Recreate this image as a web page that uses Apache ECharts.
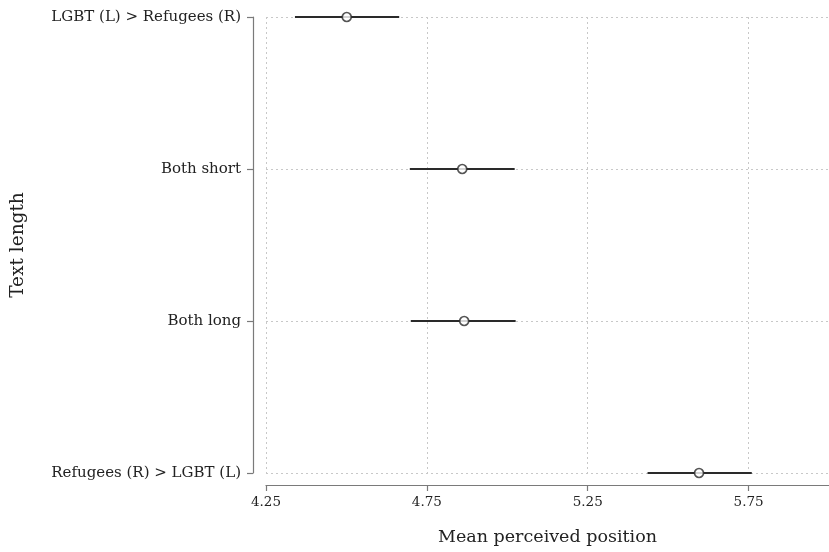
<!DOCTYPE html>
<html>
<head>
<meta charset="utf-8">
<script src="https://cdn.jsdelivr.net/npm/echarts@6/dist/echarts.min.js"></script>
<style>html,body{margin:0;padding:0;background:#fff}#c{width:829px;height:552px}</style>
</head>
<body>
<div id="c"></div>
<script>
const categories = ['Refugees (R) > LGBT (L)', 'Both long', 'Both short', 'LGBT (L) > Refugees (R)'];
const means = [5.596, 4.866, 4.860, 4.501];
const lows = [5.436, 4.700, 4.697, 4.340];
const highs = [5.760, 5.026, 5.023, 4.664];
const xTicks = [4.25, 4.75, 5.25, 5.75];

const chart = echarts.init(document.getElementById('c'), null, {renderer: 'canvas'});
const font = 'DejaVu Serif';
const axisColor = '#7a7a7a';
const textColor = '#222';

chart.setOption({
  animation: false,
  backgroundColor: '#fff',
  grid: {left: 266, right: 0, top: 17, bottom: 79, containLabel: false, outerBoundsMode: 'none'},
  xAxis: {
    type: 'value', min: 4.25, max: 6.0, interval: 0.5,
    offset: 12,
    name: 'Mean perceived position', nameLocation: 'middle', nameGap: 43,
    nameTextStyle: {fontFamily: font, fontSize: 17.5, color: textColor},
    axisLine: {show: true, lineStyle: {color: axisColor, width: 1.2}},
    axisTick: {show: true, length: 6, lineStyle: {color: axisColor, width: 1.2}, customValues: xTicks},
    axisLabel: {fontFamily: font, fontSize: 13.5, color: textColor, margin: 10, customValues: xTicks,
      formatter: v => v.toFixed(2)},
    splitLine: {show: true, lineStyle: {color: '#c8c8c8', type: [2, 3], width: 1}}
  },
  yAxis: {
    type: 'category', data: categories, boundaryGap: false,
    offset: 13,
    name: 'Text length', nameLocation: 'middle', nameGap: 225, nameRotate: 90,
    nameTextStyle: {fontFamily: font, fontSize: 18.5, color: textColor},
    axisLine: {show: true, lineStyle: {color: axisColor, width: 1.2}},
    axisTick: {show: true, length: 6, lineStyle: {color: axisColor, width: 1.2}},
    axisLabel: {fontFamily: font, fontSize: 15, color: textColor, margin: 12},
    splitLine: {show: true, lineStyle: {color: '#c8c8c8', type: [2, 3], width: 1}}
  },
  series: [
    {
      type: 'custom',
      data: categories.map((c, i) => [lows[i], highs[i], i]),
      renderItem: function (params, api) {
        const p1 = api.coord([api.value(0), api.value(2)]);
        const p2 = api.coord([api.value(1), api.value(2)]);
        return {type: 'line', shape: {x1: p1[0], y1: p1[1], x2: p2[0], y2: p2[1]},
          style: {stroke: '#2a2a2a', lineWidth: 2}};
      },
      encode: {x: [0, 1], y: 2},
      z: 2
    },
    {
      type: 'scatter',
      data: categories.map((c, i) => [means[i], i]),
      symbol: 'circle', symbolSize: 9,
      itemStyle: {color: '#fff', borderColor: '#2a2a2a', borderWidth: 1.7},
      z: 3
    }
  ]
});
</script>
</body>
</html>
